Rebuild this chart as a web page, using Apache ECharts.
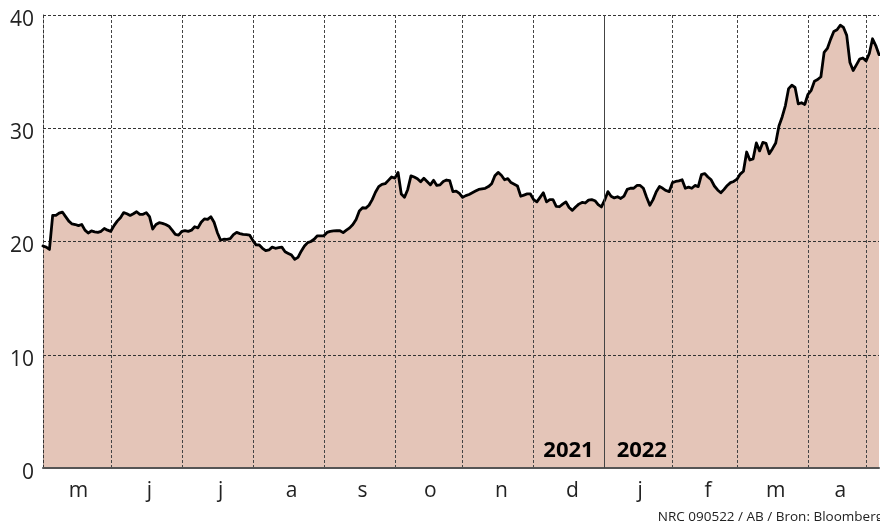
<!DOCTYPE html>
<html>
<head>
<meta charset="utf-8">
<script src="https://cdn.jsdelivr.net/npm/echarts@6/dist/echarts.min.js"></script>
<style>
html,body{margin:0;padding:0;background:#fff;}
#chart{width:880px;height:521px;}
</style>
</head>
<body>
<div id="chart"></div>
<script>
// Month letters (Dutch abbreviations) and number of trading days per month, May 2021 - early May 2022
const monthLetters = ['m','j','j','a','s','o','n','d','j','f','m','a',''];
const tradingDays  = [21, 22, 22, 22, 22, 21, 22, 22, 21, 20, 22, 18, 5];
const yearSplitMonth = 8;               // January 2022
const yearLabels = ['2021', '2022'];
const yTicks = [0, 10, 20, 30, 40];
const sourceNote = 'NRC 090522 / AB / Bron: Bloomberg';

// Daily closing values (one per trading day)
const values = [
  19.6, 19.5, 19.3, 22.3, 22.3, 22.5, 22.6, 22.2, 21.8, 21.55,
  21.5, 21.4, 21.5, 21.0, 20.75, 20.93, 20.85, 20.8, 20.9, 21.15,
  21.0, 20.9, 21.4, 21.8, 22.1, 22.55, 22.45, 22.3, 22.45, 22.63,
  22.4, 22.4, 22.55, 22.2, 21.1, 21.5, 21.66, 21.6, 21.5, 21.35,
  21.0, 20.63, 20.57, 20.9, 20.95, 20.9, 21.0, 21.3, 21.2, 21.7,
  22.0, 21.95, 22.19, 21.7, 20.8, 20.13, 20.2, 20.19, 20.25, 20.6,
  20.8, 20.7, 20.63, 20.6, 20.57, 20.1, 19.7, 19.69, 19.4, 19.19,
  19.25, 19.5, 19.4, 19.45, 19.5, 19.1, 18.95, 18.8, 18.43, 18.6,
  19.15, 19.6, 19.9, 20.0, 20.2, 20.5, 20.5, 20.5, 20.8, 20.9,
  20.93, 20.95, 20.95, 20.78, 21.0, 21.2, 21.5, 21.95, 22.7, 22.98,
  22.95, 23.2, 23.7, 24.35, 24.85, 25.05, 25.1, 25.4, 25.7, 25.6,
  26.1, 24.2, 23.9, 24.6, 25.8, 25.7, 25.55, 25.28, 25.58, 25.3,
  25.0, 25.4, 24.95, 25.0, 25.3, 25.43, 25.37, 24.4, 24.45, 24.25,
  23.9, 24.05, 24.15, 24.3, 24.45, 24.6, 24.65, 24.7, 24.85, 25.1,
  25.8, 26.1, 25.85, 25.45, 25.55, 25.2, 25.05, 24.9, 24.0, 24.1,
  24.2, 24.2, 23.7, 23.5, 23.9, 24.3, 23.5, 23.7, 23.7, 23.1,
  23.07, 23.3, 23.5, 23.0, 22.75, 23.05, 23.3, 23.45, 23.4, 23.65,
  23.7, 23.6, 23.25, 23.05, 23.65, 24.4, 24.0, 23.85, 23.95, 23.8,
  24.0, 24.6, 24.7, 24.7, 24.95, 24.95, 24.7, 23.9, 23.2, 23.7,
  24.4, 24.85, 24.7, 24.5, 24.4, 25.2, 25.3, 25.35, 25.45, 24.7,
  24.8, 24.7, 24.95, 24.85, 25.9, 26.0, 25.7, 25.45, 24.9, 24.55,
  24.3, 24.6, 24.95, 25.2, 25.3, 25.5, 25.95, 26.2, 27.9, 27.2,
  27.3, 28.7, 28.0, 28.75, 28.67, 27.75, 28.2, 28.7, 30.2, 31.0,
  32.0, 33.5, 33.8, 33.6, 32.15, 32.25, 32.1, 33.0, 33.35, 34.15,
  34.3, 34.55, 36.7, 37.05, 37.85, 38.55, 38.7, 39.1, 38.9, 38.2,
  35.8, 35.1, 35.6, 36.1, 36.2, 35.95, 36.6, 37.9, 37.3, 36.5
];

// Build categories, month start indices and label indices
const categories = [];
const monthStart = new Set();
const labelAt = {};
let idx = 0;
tradingDays.forEach((n, m) => {
  monthStart.add(idx);
  if (monthLetters[m]) labelAt[idx + Math.floor(n / 2) + 1] = monthLetters[m];
  for (let d = 0; d < n; d++) categories.push('m' + m + 'd' + d);
  idx += n;
});
let yearIdx = 0;
for (let m = 0; m < yearSplitMonth; m++) yearIdx += tradingDays[m];
const yearCat = categories[yearIdx];

const FONT = '"Open Sans", "Noto Sans", sans-serif';
const chart = echarts.init(document.getElementById('chart'), null, {renderer: 'canvas'});
chart.setOption({
  animation: false,
  backgroundColor: '#ffffff',
  title: {
    text: sourceNote,
    right: -3,
    bottom: -3,
    padding: 0,
    textStyle: {fontFamily: FONT, fontSize: 13.5, fontWeight: 'normal', color: '#222'}
  },
  grid: {left: 43, right: 1, top: 15, bottom: 53},
  xAxis: {
    type: 'category',
    data: categories,
    boundaryGap: false,
    z: 2,
    axisLine: {show: true, lineStyle: {color: '#555', width: 2}},
    axisTick: {show: false},
    axisLabel: {
      interval: (i) => labelAt[i] !== undefined,
      formatter: (v, i) => labelAt[i] || '',
      fontFamily: FONT, fontSize: 21, color: '#222', margin: 13
    },
    splitLine: {
      show: true,
      interval: (i) => monthStart.has(i),
      lineStyle: {color: '#444', width: 1, type: [3, 2]}
    }
  },
  yAxis: {
    type: 'value',
    min: yTicks[0],
    max: yTicks[yTicks.length - 1],
    interval: yTicks[1] - yTicks[0],
    z: 2,
    axisLine: {show: true, lineStyle: {color: '#333', width: 1, type: [3, 2]}},
    axisTick: {show: false},
    axisLabel: {
      fontFamily: FONT, fontSize: 21, color: '#222', margin: 9,
      verticalAlign: 'top', lineHeight: 10
    },
    splitLine: {show: true, lineStyle: {color: '#333', width: 1, type: [3, 2]}}
  },
  series: [
    {
      type: 'line',
      data: values,
      z: 1,
      symbol: 'none',
      silent: true,
      lineStyle: {width: 0, opacity: 0},
      areaStyle: {color: '#e4c5b8', opacity: 1}
    },
    {
      type: 'line',
      data: values,
      z: 3,
      symbol: 'none',
      silent: true,
      lineStyle: {color: '#000', width: 2.8, join: 'round', cap: 'round'},
      markLine: {
        silent: true,
        symbol: 'none',
        label: {show: false},
        lineStyle: {color: '#444', width: 1, type: 'solid'},
        data: [{xAxis: yearCat}]
      },
      markPoint: {
        silent: true,
        symbol: 'circle',
        symbolSize: 0,
        data: [
          {coord: [yearCat, 0], label: {formatter: yearLabels[0], position: 'left', distance: 11, offset: [0, -17]}},
          {coord: [yearCat, 0], label: {formatter: yearLabels[1], position: 'right', distance: 12, offset: [0, -17]}}
        ],
        label: {show: true, fontFamily: FONT, fontSize: 22, fontWeight: 'bold', color: '#000'}
      }
    }
  ]
});
</script>
</body>
</html>
